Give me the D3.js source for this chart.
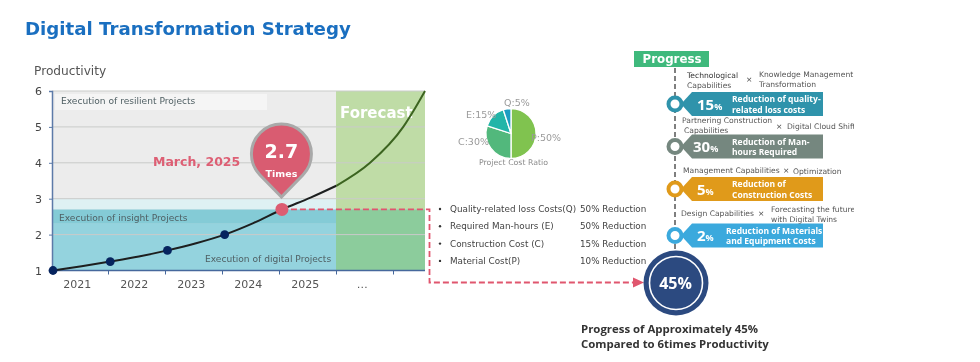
<!DOCTYPE html>
<html><head><meta charset="utf-8">
<script src="https://cdnjs.cloudflare.com/ajax/libs/d3/7.8.5/d3.min.js"></script>
<style>
html,body{margin:0;padding:0;background:#fff}
svg{display:block;filter:blur(0.35px);font-family:"DejaVu Sans",Verdana,sans-serif}
.ns{font-family:"Noto Sans",sans-serif}
.os{font-family:"Open Sans",sans-serif}
</style></head><body>
<svg id="c" width="980" height="362"></svg>
<script>
const years = ["2021","2022","2023","2024","2025","…"];
const yTicks = [1,2,3,4,5,6];
const tickSteps = [1,2,3,4,5,6];
const curveT = [0,0.5,1,1.5,2,2.5,3,3.5,4,4.5,4.95,5.54,6.12,6.3,6.5];
const curveV = [1,1.12,1.25,1.39,1.56,1.76,2,2.32,2.7,3.03,3.36,4,5,5.45,6];
const milestoneT = [0,1,2,3];
const milestoneV = [1,1.25,1.56,2];
const currentT = 4, currentV = 2.7;
const pieLabels = ["P:50%","C:30%","E:15%","Q:5%"];
const pieValues = [50,30,15,5];
const pieColors = ["#80c34f","#52b87c","#23b5a8","#1c9dc2"];
const costItems = ["Quality-related loss Costs(Q)","Required Man-hours (E)","Construction Cost (C)","Material Cost(P)"];
const costReductions = ["50% Reduction","50% Reduction","15% Reduction","10% Reduction"];
const badgePercents = ["15","30","5","2"];
const badgeLine1 = ["Reduction of quality-","Reduction of Man-","Reduction of","Reduction of Materials"];
const badgeLine2 = ["related loss costs","hours Required","Construction Costs","and Equipment Costs"];
const badgeColors = ["#2f93ab","#75877f","#e09a1a","#3ba9dd"];

const svg = d3.select("#c");
const x = d3.scaleLinear().domain([0,6.5]).range([53,425]);
const y = d3.scaleLinear().domain([1,6]).range([270.5,91]);
const tickX = d3.scaleLinear().domain([1,6]).range([108,393]);
const bound = k => tickX(k);

svg.append("text").attr("x",25).attr("y",35).attr("fill","#1a6fc0").attr("font-size",18.2).attr("font-weight",700).text("Digital Transformation Strategy");
svg.append("text").attr("x",34).attr("y",75).attr("fill","#555").attr("font-size",12.2).text("Productivity");

// plot bands
const L=52, R=425;
const band=(v0,v1,c,x0=L,x1=R)=>svg.append("rect").attr("x",x0).attr("width",x1-x0).attr("y",y(v1)).attr("height",y(v0)-y(v1)).attr("fill",c);
band(1,6,"#ececec");
band(2.7,3,"#def1f3");
band(2.3,2.7,"#84cbd6");
band(1,2.3,"#94d3de");
band(2.7,6,"#bfdca6",bound(5));
band(1,2.7,"#8ccc9c",bound(5));
svg.append("rect").attr("x",55).attr("y",94).attr("width",212).attr("height",16).attr("fill","#f5f5f5");

// grid
svg.append("g").selectAll("line").data(yTicks.slice(1)).join("line")
 .attr("x1",L).attr("x2",R).attr("y1",d=>y(d)).attr("y2",d=>y(d)).attr("stroke","#c9cbc9").attr("stroke-width",1);

// axes
const ay=svg.append("g").attr("transform",`translate(${L},0)`).call(d3.axisLeft(y).tickValues(yTicks).tickSize(3).tickFormat(d3.format("d")));
ay.attr("font-family",null);
ay.selectAll("path,line").attr("stroke","#5c7aa8");
ay.select("path").attr("stroke-width",1.5);
ay.selectAll("text").attr("font-size",11).attr("fill","#444").attr("x",-10);
const ax=svg.append("g").attr("transform",`translate(0,${y(1)})`).call(d3.axisBottom(tickX).tickValues(tickSteps).tickSize(4).tickFormat(""));
ax.selectAll("line").attr("stroke","#46689c");
ax.select("path").remove();
svg.append("line").attr("x1",L).attr("x2",R).attr("y1",y(1)).attr("y2",y(1)).attr("stroke","#46689c").attr("stroke-width",1.5);
svg.append("g").selectAll("text").data(years).join("text")
 .attr("x",(d,i)=>tickX(i+0.46)).attr("y",287.5).attr("text-anchor","middle").attr("font-size",11).attr("fill","#555").text(d=>d);

// band labels
const bl=[["Execution of resilient Projects",61,104],["Execution of insight Projects",59,221],["Execution of digital Projects",205,262]];
svg.append("g").selectAll("text").data(bl).join("text").attr("x",d=>d[1]).attr("y",d=>d[2]).attr("font-size",9.1).attr("fill","#4f5f63").text(d=>d[0]);
svg.append("text").attr("x",340).attr("y",118).attr("font-size",15).attr("font-weight",700).attr("fill","#fff").text("Forecast");

// curve
const line=d3.line().x(d=>x(d[0])).y(d=>y(d[1])).curve(d3.curveMonotoneX);
const pts=curveT.map((t,i)=>[t,curveV[i]]);
svg.append("path").attr("d",line(pts.filter(p=>p[0]<=4.95))).attr("fill","none").attr("stroke","#1d1f1f").attr("stroke-width",2);
svg.append("path").attr("d",line(pts.filter(p=>p[0]>=4.95))).attr("fill","none").attr("stroke","#3c6420").attr("stroke-width",2);
svg.append("g").selectAll("circle").data(milestoneT).join("circle")
 .attr("cx",d=>x(d)).attr("cy",(d,i)=>y(milestoneV[i])).attr("r",4.4).attr("fill","#06245e");

// dashed connector
const cx=x(currentT), cy=y(currentV);
svg.append("path").attr("d",`M${cx},${cy}H429.5V282.5H633`).attr("fill","none").attr("stroke","#e0566e").attr("stroke-width",1.8).attr("stroke-dasharray","6 3");
svg.append("path").attr("d","M633,277.5L644,282.5L633,287.5Z").attr("fill","#e0566e");
svg.append("circle").attr("cx",cx).attr("cy",cy).attr("r",6.5).attr("fill","#dc5d72");

// pin
const pinR=30, pinY=154, pinX=cx-0.5;
const a=Math.asin(pinR/(197-pinY))
svg.append("path").attr("d",`M${pinX},197L${pinX-pinR*Math.cos(a)},${pinY+pinR*Math.sin(a)}A${pinR},${pinR} 0 1 1 ${pinX+pinR*Math.cos(a)},${pinY+pinR*Math.sin(a)}Z`)
 .attr("fill","#d95c71").attr("stroke","#a9a9a9").attr("stroke-width",3);
svg.append("text").attr("x",pinX).attr("y",158).attr("text-anchor","middle").attr("font-size",19).attr("font-weight",700).attr("fill","#fff").text(currentV.toFixed(1));
svg.append("text").attr("x",pinX).attr("y",176.5).attr("text-anchor","middle").attr("font-size",9.5).attr("font-weight",700).attr("fill","#fff").text("Times");
svg.append("text").attr("x",153).attr("y",165.5).attr("font-size",12.5).attr("font-weight",700).attr("fill","#dd5f74").text("March, 2025");

// pie
const pie=d3.pie().sort(null)(pieValues);
const arc=d3.arc().innerRadius(0).outerRadius(25);
const gp=svg.append("g").attr("transform","translate(511,133.5)");
gp.selectAll("path").data(pie).join("path").attr("d",arc).attr("fill",(d,i)=>pieColors[i]).attr("stroke","#fff").attr("stroke-width",1.3);
const pl=[[531,141],[458,144.5],[466,118],[504,106]];
svg.append("g").selectAll("text").data(pieLabels).join("text").attr("x",(d,i)=>pl[i][0]).attr("y",(d,i)=>pl[i][1]).attr("font-size",9.5).attr("fill","#9a9a9a").text(d=>d);
svg.append("text").attr("x",479).attr("y",165).attr("font-size",7.8).attr("fill","#8a8a8a").text("Project Cost Ratio");

// cost list
const rowY=i=>212+i*17.3;
svg.append("g").selectAll("circle").data(costItems).join("circle").attr("cx",440).attr("cy",(d,i)=>rowY(i)-3).attr("r",1.2).attr("fill","#333");
svg.append("g").selectAll("text").data(costItems).join("text").attr("x",450).attr("y",(d,i)=>rowY(i)).attr("font-size",8.8).attr("fill","#444").text(d=>d);
svg.append("g").selectAll("text").data(costReductions).join("text").attr("x",580).attr("y",(d,i)=>rowY(i)).attr("font-size",8.8).attr("fill","#444").text(d=>d);

// progress
svg.append("rect").attr("x",634).attr("y",51).attr("width",75).attr("height",16).attr("fill","#3fb97c");
svg.append("text").attr("x",672).attr("y",63).attr("text-anchor","middle").attr("font-size",11.8).attr("font-weight",700).attr("fill","#fff").text("Progress");
svg.append("line").attr("x1",675).attr("x2",675).attr("y1",68).attr("y2",256).attr("stroke","#555").attr("stroke-width",1.5).attr("stroke-dasharray","5 3");

const defs=svg.append("defs");
defs.append("clipPath").attr("id","clip").append("rect").attr("x",630).attr("y",60).attr("width",224).attr("height",210);
const badgeY=[104,146.5,189,235.5];
const g=svg.append("g").selectAll("g").data(badgePercents).join("g").attr("transform",(d,i)=>`translate(0,${badgeY[i]})`);
g.append("path").attr("d","M681,0L692,-12H823V12H692Z").attr("fill",(d,i)=>badgeColors[i]);
g.append("circle").attr("cx",675).attr("r",6.5).attr("fill","#fff").attr("stroke",(d,i)=>badgeColors[i]).attr("stroke-width",4);
const pctX=[697,693,697,697], lblX=[732,732,732,726];
g.append("text").attr("class","os").attr("x",(d,i)=>pctX[i]).attr("y",5.5).attr("font-size",15).attr("font-weight",700).attr("fill","#fff")
 .text(d=>d).append("tspan").attr("font-size",9).text("%");
g.append("text").attr("class","os").attr("x",(d,i)=>lblX[i]).attr("y",-2).attr("font-size",8.5).attr("font-weight",700).attr("fill","#fff").text((d,i)=>badgeLine1[i]);
g.append("text").attr("class","os").attr("x",(d,i)=>lblX[i]).attr("y",8.5).attr("font-size",8.5).attr("font-weight",700).attr("fill","#fff").text((d,i)=>badgeLine2[i]);

const capNotes=[
 ["Technological",687,78,"#333"],["Capabilities",687,88,"#555"],["×",746,82,"#444"],["Knowledge Management",759,77,"#555"],["Transformation",759,87,"#555"],
 ["Partnering Construction",682,123,"#555"],["Capabilities",684,133,"#555"],["×",776,129,"#444"],["Digital Cloud Shift",787,129,"#555"],
 ["Management Capabilities",683,173,"#555"],["×",783,173,"#444"],["Optimization",793,174,"#555"],
 ["Design Capabilities",681,216,"#555"],["×",758,216,"#444"],["Forecasting the future",771,212,"#555"],["with Digital Twins",771,222,"#555"]];
svg.append("g").attr("clip-path","url(#clip)").selectAll("text").data(capNotes).join("text")
 .attr("x",d=>d[1]).attr("y",d=>d[2]).attr("font-size",7.6).attr("fill",d=>d[3]).text(d=>d[0]);

// total
svg.append("circle").attr("cx",676).attr("cy",283).attr("r",32.5).attr("fill","#2c4a80");
svg.append("circle").attr("cx",676).attr("cy",283).attr("r",26.5).attr("fill","none").attr("stroke","#fff").attr("stroke-width",1.6);
svg.append("text").attr("class","os").attr("x",675.5).attr("y",288.5).attr("text-anchor","middle").attr("font-size",16).attr("font-weight",700).attr("fill","#fff").text("45%");
svg.append("text").attr("class","os").attr("x",581).attr("y",333).attr("font-size",11.4).attr("font-weight",700).attr("fill","#333").text("Progress of Approximately 45%");
svg.append("text").attr("class","os").attr("x",581).attr("y",348).attr("font-size",11.4).attr("font-weight",700).attr("fill","#333").text("Compared to 6times Productivity");
</script>
</body></html>
